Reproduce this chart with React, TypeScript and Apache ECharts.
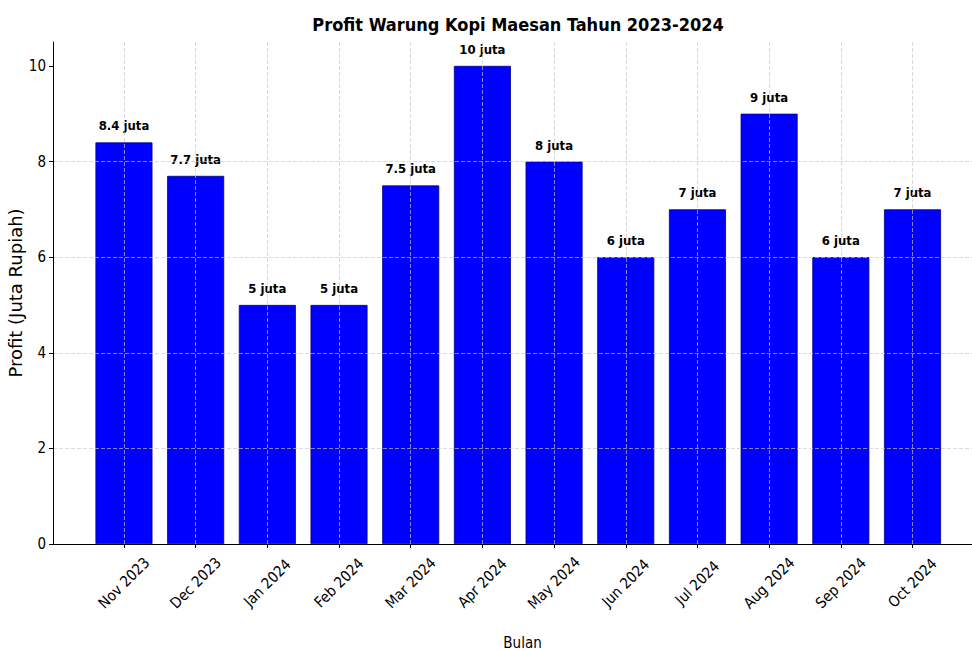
import React, { useEffect, useRef } from "react";
import * as echarts from "echarts";

const titleText = "Profit Warung Kopi Maesan Tahun 2023-2024";
const categories = [
  "Nov 2023", "Dec 2023", "Jan 2024", "Feb 2024", "Mar 2024", "Apr 2024",
  "May 2024", "Jun 2024", "Jul 2024", "Aug 2024", "Sep 2024", "Oct 2024",
];
const profits = [8.4, 7.7, 5, 5, 7.5, 10, 8, 6, 7, 9, 6, 7];
const yTicks = [0, 2, 4, 6, 8, 10];
const yAxisName = "Profit (Juta Rupiah)";
const xAxisName = "Bulan";

const FONT = "'DejaVu Sans Condensed', 'Liberation Sans Narrow', 'DejaVu Sans', sans-serif";
const FONT_REG = "'DejaVu Sans', sans-serif";
const GRID_COLOR = "rgba(200,200,200,0.65)";

export default function App() {
  const ref = useRef<HTMLDivElement>(null);
  useEffect(() => {
    if (!ref.current) return;
    const chart = echarts.init(ref.current, null, { renderer: "svg" });
    const catIdx = categories.map((_, i) => i);
    chart.setOption({
      animation: false,
      backgroundColor: "#ffffff",
      textStyle: { fontFamily: FONT, color: "#000" },
      title: {
        text: titleText,
        left: 513,
        textAlign: "center",
        top: 10,
        textStyle: { fontFamily: FONT, fontWeight: "bold", fontSize: 18, color: "#000" },
      },
      grid: {
        left: 53,
        right: 0,
        top: 42,
        bottom: 107,
        containLabel: false,
        outerBoundsMode: "none",
      },
      xAxis: {
        type: "value",
        min: -0.99,
        max: 11.83,
        name: xAxisName,
        nameLocation: "middle",
        nameGap: 91,
        nameMoveOverlap: false,
        nameTextStyle: { fontFamily: FONT, fontSize: 15, color: "#000", padding: [0, 0, 0, 20] },
        axisLine: { show: true, onZero: false, lineStyle: { color: "#000", width: 1 } },
        axisTick: { show: true, customValues: catIdx, length: 4, lineStyle: { color: "#000" } },
        axisLabel: {
          customValues: catIdx,
          formatter: (v: number) => categories[Math.round(v)] ?? "",
          rotate: 45,
          align: "center",
          verticalAlign: "middle",
          margin: 39,
          fontFamily: FONT,
          fontSize: 15,
          color: "#000",
        },
        splitLine: { show: false },
      },
      yAxis: {
        type: "value",
        min: 0,
        max: 10.5,
        z: 5,
        name: yAxisName,
        nameLocation: "middle",
        nameGap: 29,
        nameMoveOverlap: false,
        nameTextStyle: { fontFamily: FONT_REG, fontSize: 18, color: "#000" },
        axisLine: { show: true, onZero: false, lineStyle: { color: "#000", width: 1 } },
        axisTick: { show: true, customValues: yTicks, length: 4, lineStyle: { color: "#000" } },
        axisLabel: {
          customValues: yTicks,
          fontFamily: FONT,
          fontSize: 15,
          color: "#000",
          margin: 7,
        },
        splitLine: {
          show: true,
          showMinLine: false,
          showMaxLine: false,
          lineStyle: { color: GRID_COLOR, type: "dashed", width: 1 },
        },
      },
      series: [
        {
          type: "bar",
          data: profits.map((v, i) => [i, v]),
          barWidth: 57,
          itemStyle: { color: "#0000ff", borderColor: "#000080", borderWidth: 0.8 },
          label: {
            show: true,
            position: "top",
            distance: 10,
            formatter: (p: any) => `${p.value[1]} juta`,
            fontFamily: FONT,
            fontWeight: "bold",
            fontSize: 13,
            color: "#000",
          },
          markLine: {
            silent: true,
            symbol: ["none", "none"],
            label: { show: false },
            lineStyle: { color: GRID_COLOR, type: "dashed", width: 1 },
            data: catIdx.map((i) => ({ xAxis: i })),
          },
        },
      ],
    });
    return () => chart.dispose();
  }, []);
  return (
    <div
      ref={ref}
      style={{ position: "fixed", left: 0, top: 0, width: 972, height: 651 }}
    />
  );
}
